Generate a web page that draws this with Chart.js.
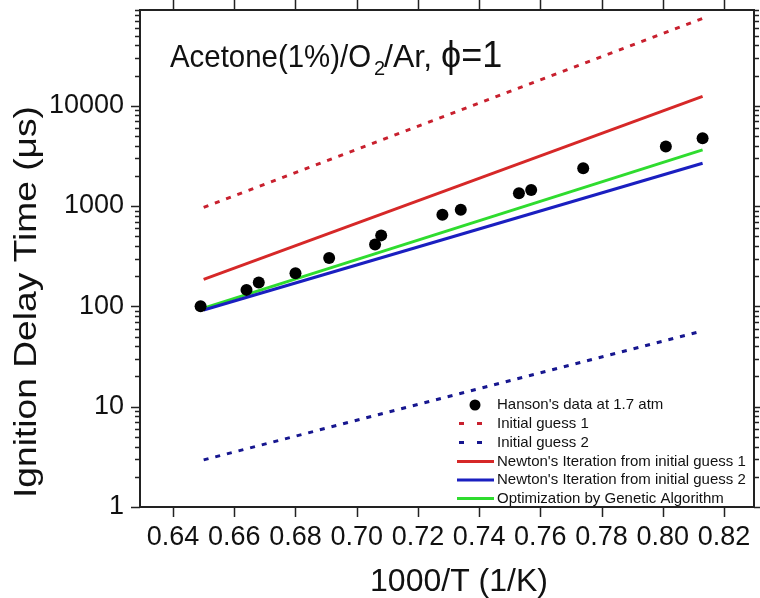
<!DOCTYPE html>
<html>
<head>
<meta charset="utf-8">
<script src="https://cdn.jsdelivr.net/npm/chart.js@4.4.1/dist/chart.umd.min.js"></script>
<style>
  body { margin: 0; background: #fff; }
  #wrap { width: 760px; height: 598px; }
</style>
</head>
<body>
<div id="wrap"><canvas id="idtChart" width="760" height="598"></canvas></div>
<script>
// Hanson's shock tube data at 1.7 atm
const hansonX = [0.649, 0.664, 0.668, 0.680, 0.691, 0.706, 0.708, 0.728, 0.734, 0.753, 0.757, 0.774, 0.801, 0.813];
const hansonY = [100, 146, 173, 214, 304, 414, 510, 819, 918, 1340, 1445, 2380, 3920, 4750];

// model lines (straight in log space, so the two ends are enough)
const lineX = [0.65, 0.813];
const guess1Y = [970, 74000];
const guess2Y = [2.95, 57];
const newton1Y = [186, 12400];
const newton2Y = [92, 2670];
const geneticY = [96, 3630];

const xTicks = [0.64, 0.66, 0.68, 0.70, 0.72, 0.74, 0.76, 0.78, 0.80, 0.82];
const yTicks = [1, 10, 100, 1000, 10000];

const FONT = "'Liberation Sans', Arial, sans-serif";

function toPoints(xs, ys) {
  return xs.map((x, i) => ({ x: x, y: ys[i] }));
}

function lineSet(label, ys, color, dashed) {
  return {
    label: label,
    data: toPoints(lineX, ys),
    showLine: true,
    borderColor: color,
    borderWidth: 3,
    borderDash: dashed ? [5, 7] : [],
    pointRadius: 0,
    fill: false
  };
}

const datasets = [
  {
    label: "Hanson's data at 1.7 atm",
    data: toPoints(hansonX, hansonY),
    pointRadius: 6,
    pointBackgroundColor: '#000',
    pointBorderWidth: 0,
    showLine: false
  },
  lineSet('Initial guess 1', guess1Y, '#c8202e', true),
  lineSet('Initial guess 2', guess2Y, '#16168f', true),
  lineSet("Newton's Iteration from initial guess 1", newton1Y, '#d62828', false),
  lineSet("Newton's Iteration from initial guess 2", newton2Y, '#1a1fc0', false),
  lineSet('Optimization by Genetic Algorithm', geneticY, '#2fdc2f', false)
];

// draw text squeezed to a given width
function fitText(ctx, text, x, y, width) {
  const w = ctx.measureText(text).width;
  ctx.save();
  ctx.translate(x, y);
  ctx.scale(width / w, 1);
  ctx.fillText(text, 0, 0);
  ctx.restore();
}

// frame, tick marks, titles and legend
const decorPlugin = {
  id: 'decor',
  afterDraw(chart) {
    const ctx = chart.ctx;
    const a = chart.chartArea;
    const xs = chart.scales.x;
    const ys = chart.scales.y;
    ctx.save();
    ctx.strokeStyle = '#222';
    ctx.lineWidth = 2;
    ctx.strokeRect(a.left, a.top, a.right - a.left, a.bottom - a.top);

    // x ticks top and bottom
    ctx.lineWidth = 1.5;
    xTicks.forEach(v => {
      const px = Math.round(xs.getPixelForValue(v)) + 0.5;
      ctx.beginPath();
      ctx.moveTo(px, a.bottom); ctx.lineTo(px, a.bottom + 10);
      ctx.moveTo(px, a.top); ctx.lineTo(px, a.top - 10);
      ctx.stroke();
    });

    // y ticks left and right, major and minor
    yTicks.forEach(d => {
      for (let m = 1; m <= 9; m++) {
        const v = d * m;
        if (v > ys.max) break;
        const py = Math.round(ys.getPixelForValue(v)) + 0.5;
        const len = m === 1 ? 9 : 5;
        ctx.beginPath();
        ctx.moveTo(a.left, py); ctx.lineTo(a.left - len, py);
        ctx.moveTo(a.right, py); ctx.lineTo(a.right + len, py);
        ctx.stroke();
      }
    });

    ctx.fillStyle = '#111';

    // axis titles
    ctx.font = '32px ' + FONT;
    ctx.textAlign = 'center';
    ctx.textBaseline = 'middle';
    ctx.fillText('1000/T (1/K)', 459, 582);
    ctx.save();
    ctx.translate(27, 302);
    ctx.rotate(-Math.PI / 2);
    ctx.font = '31px ' + FONT;
    const yt = 'Ignition Delay Time (\u03bcs)';
    const ytw = ctx.measureText(yt).width;
    ctx.scale(392 / ytw, 1);
    ctx.fillText(yt, 0, 0);
    ctx.restore();

    // panel label
    ctx.textAlign = 'left';
    ctx.textBaseline = 'alphabetic';
    const base = 67;
    ctx.font = '32px ' + FONT;
    fitText(ctx, 'Acetone(1%)/O', 170, base, 201);
    ctx.font = '20px ' + FONT;
    ctx.fillText('2', 374, base + 8);
    ctx.font = '32px ' + FONT;
    ctx.fillText('/Ar,', 384, base);
    ctx.font = '36px ' + FONT;
    ctx.fillText('\u03d5=1', 441, base);

    // legend
    const rowY = [405, 423.5, 442.5, 461.5, 480, 498.5];
    ctx.font = '15px ' + FONT;
    ctx.textBaseline = 'middle';
    chart.data.datasets.forEach((ds, i) => {
      const y = rowY[i];
      if (i === 0) {
        ctx.beginPath();
        ctx.arc(475, y, 5.5, 0, Math.PI * 2);
        ctx.fillStyle = '#000';
        ctx.fill();
      } else {
        ctx.strokeStyle = ds.borderColor;
        ctx.lineWidth = 3;
        ctx.beginPath();
        if (ds.borderDash.length) {
          ctx.moveTo(459, y); ctx.lineTo(464, y);
          ctx.moveTo(477, y); ctx.lineTo(482, y);
        } else {
          ctx.moveTo(457, y); ctx.lineTo(494, y);
        }
        ctx.stroke();
      }
      ctx.fillStyle = '#111';
      ctx.fillText(ds.label, 497, y);
    });
    ctx.restore();
  }
};

new Chart(document.getElementById('idtChart').getContext('2d'), {
  type: 'scatter',
  data: { datasets: datasets },
  options: {
    responsive: false,
    animation: false,
    layout: { padding: { top: 10, right: 5, left: 0, bottom: 0 } },
    plugins: {
      legend: { display: false },
      tooltip: { enabled: false }
    },
    scales: {
      x: {
        type: 'linear',
        min: 0.6292,
        max: 0.8298,
        afterBuildTicks: function (scale) {
          scale.ticks = xTicks.map(v => ({ value: v }));
        },
        afterFit: function (scale) {
          scale.height = 91;
          scale.paddingLeft = 0;
          scale.paddingRight = 0;
        },
        grid: { display: false, drawTicks: false },
        border: { display: false },
        ticks: {
          color: '#111',
          padding: 14,
          maxRotation: 0,
          autoSkip: false,
          font: { family: FONT, size: 27 },
          callback: function (v) { return v.toFixed(2); }
        }
      },
      y: {
        type: 'logarithmic',
        min: 1,
        max: 90000,
        afterBuildTicks: function (scale) {
          scale.ticks = yTicks.map(v => ({ value: v }));
        },
        afterFit: function (scale) {
          scale.width = 140;
          scale.paddingTop = 0;
          scale.paddingBottom = 0;
        },
        grid: { display: false, drawTicks: false },
        border: { display: false },
        ticks: {
          color: '#111',
          padding: 16,
          autoSkip: false,
          font: { family: FONT, size: 27 },
          callback: function (v) { return String(v); }
        }
      }
    }
  },
  plugins: [decorPlugin]
});
</script>
</body>
</html>
